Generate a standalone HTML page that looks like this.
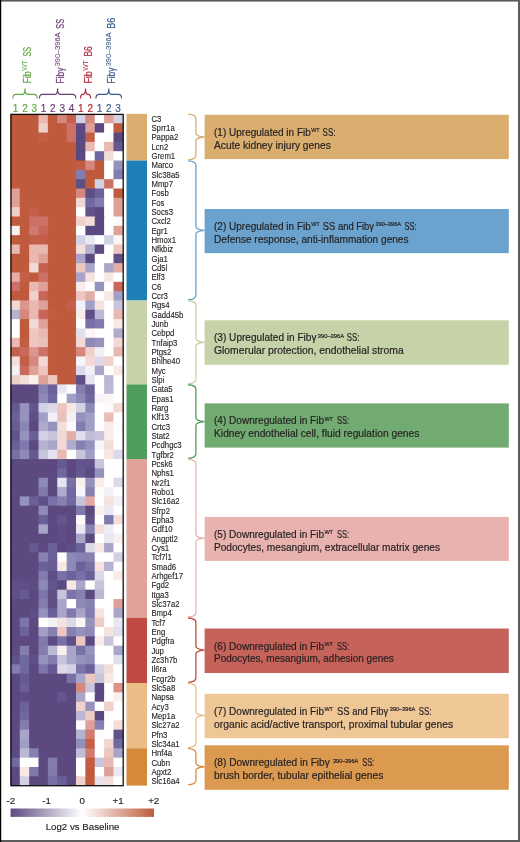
<!DOCTYPE html>
<html lang="en"><head><meta charset="utf-8"><title>Heatmap figure</title>
<style>html,body{margin:0;padding:0;background:#fff}body{width:520px;height:842px;overflow:hidden}svg{display:block}text{font-family:"Liberation Sans",sans-serif}.g{font-size:8.25px;fill:#231f20;stroke:#231f20;stroke-width:0.12px}.b{font-size:10.1px;fill:#231f20;stroke:#231f20;stroke-width:0.18px}.s{font-size:5.7px}.n{font-size:10px;text-anchor:middle;stroke-width:0.2px}.k{font-size:9.7px;fill:#231f20;text-anchor:middle;stroke:#231f20;stroke-width:0.15px}</style></head><body>
<svg width="520" height="842" viewBox="0 0 520 842">
<defs><linearGradient id="lg" x1="0" x2="1" y1="0" y2="0"><stop offset="0" stop-color="#5b4980"/><stop offset="0.5" stop-color="#ffffff"/><stop offset="1" stop-color="#bf5b3c"/></linearGradient></defs>
<rect width="520" height="842" fill="#fff"/>
<rect x="0" y="0" width="520" height="1.6" fill="#5c5c5c"/>
<rect x="518" y="0" width="2" height="842" fill="#5c5c5c"/>
<rect x="0" y="840" width="520" height="2" fill="#5c5c5c"/>
<rect x="0" y="0" width="1.2" height="842" fill="#000"/>
<g>
<rect x="10.40" y="113.87" width="29.11" height="10.33" fill="#bf5b3c"/>
<rect x="38.51" y="113.87" width="10.37" height="10.33" fill="#e8b8b1"/>
<rect x="47.88" y="113.87" width="10.37" height="10.33" fill="#bf5b3c"/>
<rect x="57.25" y="113.87" width="10.37" height="10.33" fill="#d6887f"/>
<rect x="66.62" y="113.87" width="10.37" height="10.33" fill="#c6604e"/>
<rect x="75.99" y="113.87" width="10.37" height="10.33" fill="#d3d1e4"/>
<rect x="85.36" y="113.87" width="10.37" height="10.33" fill="#d6887f"/>
<rect x="94.73" y="113.87" width="10.37" height="10.33" fill="#ffffff"/>
<rect x="104.10" y="113.87" width="10.37" height="10.33" fill="#dfa098"/>
<rect x="113.47" y="113.87" width="9.97" height="10.33" fill="#d3d1e4"/>
<rect x="10.40" y="123.20" width="29.11" height="10.33" fill="#bf5b3c"/>
<rect x="38.51" y="123.20" width="10.37" height="10.33" fill="#f0d0ca"/>
<rect x="47.88" y="123.20" width="19.74" height="10.33" fill="#bf5b3c"/>
<rect x="66.62" y="123.20" width="10.37" height="10.33" fill="#cd7066"/>
<rect x="75.99" y="123.20" width="10.37" height="10.33" fill="#5b4980"/>
<rect x="85.36" y="123.20" width="10.37" height="10.33" fill="#dfa098"/>
<rect x="94.73" y="123.20" width="10.37" height="10.33" fill="#5b4980"/>
<rect x="104.10" y="123.20" width="10.37" height="10.33" fill="#ffffff"/>
<rect x="113.47" y="123.20" width="9.97" height="10.33" fill="#bf5b3c"/>
<rect x="10.40" y="132.53" width="29.11" height="10.33" fill="#bf5b3c"/>
<rect x="38.51" y="132.53" width="10.37" height="10.33" fill="#c35e47"/>
<rect x="47.88" y="132.53" width="19.74" height="10.33" fill="#bf5b3c"/>
<rect x="66.62" y="132.53" width="10.37" height="10.33" fill="#cd7066"/>
<rect x="75.99" y="132.53" width="10.37" height="10.33" fill="#5b4980"/>
<rect x="85.36" y="132.53" width="10.37" height="10.33" fill="#c35e47"/>
<rect x="94.73" y="132.53" width="19.74" height="10.33" fill="#ffffff"/>
<rect x="113.47" y="132.53" width="9.97" height="10.33" fill="#5b4980"/>
<rect x="10.40" y="141.86" width="66.59" height="10.33" fill="#bf5b3c"/>
<rect x="75.99" y="141.86" width="10.37" height="10.33" fill="#5b4980"/>
<rect x="85.36" y="141.86" width="10.37" height="10.33" fill="#e8b8b1"/>
<rect x="94.73" y="141.86" width="10.37" height="10.33" fill="#ffffff"/>
<rect x="104.10" y="141.86" width="10.37" height="10.33" fill="#e8b8b1"/>
<rect x="113.47" y="141.86" width="9.97" height="10.33" fill="#665890"/>
<rect x="10.40" y="151.19" width="66.59" height="10.33" fill="#bf5b3c"/>
<rect x="75.99" y="151.19" width="10.37" height="10.33" fill="#5b4980"/>
<rect x="85.36" y="151.19" width="10.37" height="10.33" fill="#ffffff"/>
<rect x="94.73" y="151.19" width="10.37" height="10.33" fill="#7068a0"/>
<rect x="104.10" y="151.19" width="10.37" height="10.33" fill="#f4deda"/>
<rect x="113.47" y="151.19" width="9.97" height="10.33" fill="#ffffff"/>
<rect x="10.40" y="160.52" width="66.59" height="10.33" fill="#bf5b3c"/>
<rect x="75.99" y="160.52" width="10.37" height="10.33" fill="#c25d43"/>
<rect x="85.36" y="160.52" width="10.37" height="10.33" fill="#d6887f"/>
<rect x="94.73" y="160.52" width="10.37" height="10.33" fill="#bf5b3c"/>
<rect x="104.10" y="160.52" width="10.37" height="10.33" fill="#ffffff"/>
<rect x="113.47" y="160.52" width="9.97" height="10.33" fill="#9692be"/>
<rect x="10.40" y="169.85" width="66.59" height="10.33" fill="#bf5b3c"/>
<rect x="75.99" y="169.85" width="10.37" height="10.33" fill="#837daf"/>
<rect x="85.36" y="169.85" width="19.74" height="10.33" fill="#bf5b3c"/>
<rect x="104.10" y="169.85" width="10.37" height="10.33" fill="#ffffff"/>
<rect x="113.47" y="169.85" width="9.97" height="10.33" fill="#837daf"/>
<rect x="10.40" y="179.18" width="66.59" height="10.33" fill="#bf5b3c"/>
<rect x="75.99" y="179.18" width="10.37" height="10.33" fill="#5f4f86"/>
<rect x="85.36" y="179.18" width="10.37" height="10.33" fill="#bf5b3c"/>
<rect x="94.73" y="179.18" width="10.37" height="10.33" fill="#d3d1e4"/>
<rect x="104.10" y="179.18" width="10.37" height="10.33" fill="#cd7066"/>
<rect x="113.47" y="179.18" width="9.97" height="10.33" fill="#ffffff"/>
<rect x="10.40" y="188.51" width="10.37" height="10.33" fill="#dfa098"/>
<rect x="19.77" y="188.51" width="57.22" height="10.33" fill="#bf5b3c"/>
<rect x="75.99" y="188.51" width="10.37" height="10.33" fill="#d6887f"/>
<rect x="85.36" y="188.51" width="10.37" height="10.33" fill="#5f4f86"/>
<rect x="94.73" y="188.51" width="10.37" height="10.33" fill="#6c629a"/>
<rect x="104.10" y="188.51" width="10.37" height="10.33" fill="#ffffff"/>
<rect x="113.47" y="188.51" width="9.97" height="10.33" fill="#bf5b3c"/>
<rect x="10.40" y="197.84" width="10.37" height="10.33" fill="#dfa098"/>
<rect x="19.77" y="197.84" width="57.22" height="10.33" fill="#bf5b3c"/>
<rect x="75.99" y="197.84" width="10.37" height="10.33" fill="#f3d9d5"/>
<rect x="85.36" y="197.84" width="10.37" height="10.33" fill="#7068a0"/>
<rect x="94.73" y="197.84" width="10.37" height="10.33" fill="#837daf"/>
<rect x="104.10" y="197.84" width="10.37" height="10.33" fill="#ffffff"/>
<rect x="113.47" y="197.84" width="9.97" height="10.33" fill="#dfa098"/>
<rect x="10.40" y="207.17" width="10.37" height="10.33" fill="#f0d0ca"/>
<rect x="19.77" y="207.17" width="10.37" height="10.33" fill="#bf5b3c"/>
<rect x="29.14" y="207.17" width="10.37" height="10.33" fill="#c6604e"/>
<rect x="38.51" y="207.17" width="38.48" height="10.33" fill="#bf5b3c"/>
<rect x="75.99" y="207.17" width="10.37" height="10.33" fill="#ffffff"/>
<rect x="85.36" y="207.17" width="10.37" height="10.33" fill="#61528a"/>
<rect x="94.73" y="207.17" width="10.37" height="10.33" fill="#5b4980"/>
<rect x="104.10" y="207.17" width="10.37" height="10.33" fill="#ffffff"/>
<rect x="113.47" y="207.17" width="9.97" height="10.33" fill="#dfa098"/>
<rect x="10.40" y="216.50" width="19.74" height="10.33" fill="#bf5b3c"/>
<rect x="29.14" y="216.50" width="19.74" height="10.33" fill="#cd7066"/>
<rect x="47.88" y="216.50" width="29.11" height="10.33" fill="#bf5b3c"/>
<rect x="75.99" y="216.50" width="10.37" height="10.33" fill="#f0d0ca"/>
<rect x="85.36" y="216.50" width="10.37" height="10.33" fill="#f4deda"/>
<rect x="94.73" y="216.50" width="10.37" height="10.33" fill="#5b4980"/>
<rect x="104.10" y="216.50" width="10.37" height="10.33" fill="#ffffff"/>
<rect x="113.47" y="216.50" width="9.97" height="10.33" fill="#fefafa"/>
<rect x="10.40" y="225.83" width="10.37" height="10.33" fill="#faf1ef"/>
<rect x="19.77" y="225.83" width="10.37" height="10.33" fill="#bf5b3c"/>
<rect x="29.14" y="225.83" width="10.37" height="10.33" fill="#d17a70"/>
<rect x="38.51" y="225.83" width="10.37" height="10.33" fill="#c96658"/>
<rect x="47.88" y="225.83" width="29.11" height="10.33" fill="#bf5b3c"/>
<rect x="75.99" y="225.83" width="10.37" height="10.33" fill="#ffffff"/>
<rect x="85.36" y="225.83" width="19.74" height="10.33" fill="#5b4980"/>
<rect x="104.10" y="225.83" width="10.37" height="10.33" fill="#ffffff"/>
<rect x="113.47" y="225.83" width="9.97" height="10.33" fill="#dfa098"/>
<rect x="10.40" y="235.16" width="19.74" height="10.33" fill="#bf5b3c"/>
<rect x="29.14" y="235.16" width="19.74" height="10.33" fill="#c35e47"/>
<rect x="47.88" y="235.16" width="29.11" height="10.33" fill="#bf5b3c"/>
<rect x="75.99" y="235.16" width="10.37" height="10.33" fill="#d3d1e4"/>
<rect x="85.36" y="235.16" width="10.37" height="10.33" fill="#e9e8f2"/>
<rect x="94.73" y="235.16" width="10.37" height="10.33" fill="#ffffff"/>
<rect x="104.10" y="235.16" width="10.37" height="10.33" fill="#d3d1e4"/>
<rect x="113.47" y="235.16" width="9.97" height="10.33" fill="#fcf6f4"/>
<rect x="10.40" y="244.49" width="10.37" height="10.33" fill="#e8b8b1"/>
<rect x="19.77" y="244.49" width="10.37" height="10.33" fill="#bf5b3c"/>
<rect x="29.14" y="244.49" width="19.74" height="10.33" fill="#e8b8b1"/>
<rect x="47.88" y="244.49" width="29.11" height="10.33" fill="#bf5b3c"/>
<rect x="75.99" y="244.49" width="10.37" height="10.33" fill="#f4deda"/>
<rect x="85.36" y="244.49" width="10.37" height="10.33" fill="#b4b2d1"/>
<rect x="94.73" y="244.49" width="10.37" height="10.33" fill="#5b4980"/>
<rect x="104.10" y="244.49" width="10.37" height="10.33" fill="#ffffff"/>
<rect x="113.47" y="244.49" width="9.97" height="10.33" fill="#edc6c0"/>
<rect x="10.40" y="253.82" width="19.74" height="10.33" fill="#bf5b3c"/>
<rect x="29.14" y="253.82" width="10.37" height="10.33" fill="#e8b8b1"/>
<rect x="38.51" y="253.82" width="10.37" height="10.33" fill="#dfa098"/>
<rect x="47.88" y="253.82" width="29.11" height="10.33" fill="#bf5b3c"/>
<rect x="75.99" y="253.82" width="10.37" height="10.33" fill="#a8a5c9"/>
<rect x="85.36" y="253.82" width="10.37" height="10.33" fill="#5b4980"/>
<rect x="94.73" y="253.82" width="19.74" height="10.33" fill="#ffffff"/>
<rect x="113.47" y="253.82" width="9.97" height="10.33" fill="#5f4f86"/>
<rect x="10.40" y="263.15" width="19.74" height="10.33" fill="#bf5b3c"/>
<rect x="29.14" y="263.15" width="10.37" height="10.33" fill="#f3d9d5"/>
<rect x="38.51" y="263.15" width="10.37" height="10.33" fill="#c6604e"/>
<rect x="47.88" y="263.15" width="29.11" height="10.33" fill="#bf5b3c"/>
<rect x="75.99" y="263.15" width="10.37" height="10.33" fill="#edc6c0"/>
<rect x="85.36" y="263.15" width="10.37" height="10.33" fill="#a8a5c9"/>
<rect x="94.73" y="263.15" width="10.37" height="10.33" fill="#ffffff"/>
<rect x="104.10" y="263.15" width="10.37" height="10.33" fill="#a8a5c9"/>
<rect x="113.47" y="263.15" width="9.97" height="10.33" fill="#e4aea7"/>
<rect x="10.40" y="272.48" width="10.37" height="10.33" fill="#e4aea7"/>
<rect x="19.77" y="272.48" width="10.37" height="10.33" fill="#c35e47"/>
<rect x="29.14" y="272.48" width="10.37" height="10.33" fill="#bf5b3c"/>
<rect x="38.51" y="272.48" width="10.37" height="10.33" fill="#cd7066"/>
<rect x="47.88" y="272.48" width="29.11" height="10.33" fill="#bf5b3c"/>
<rect x="75.99" y="272.48" width="10.37" height="10.33" fill="#a8a5c9"/>
<rect x="85.36" y="272.48" width="10.37" height="10.33" fill="#f6e3df"/>
<rect x="94.73" y="272.48" width="10.37" height="10.33" fill="#ffffff"/>
<rect x="104.10" y="272.48" width="10.37" height="10.33" fill="#f8e8e4"/>
<rect x="113.47" y="272.48" width="9.97" height="10.33" fill="#ffffff"/>
<rect x="10.40" y="281.81" width="10.37" height="10.33" fill="#cd7066"/>
<rect x="19.77" y="281.81" width="10.37" height="10.33" fill="#bf5b3c"/>
<rect x="29.14" y="281.81" width="10.37" height="10.33" fill="#e8b8b1"/>
<rect x="38.51" y="281.81" width="10.37" height="10.33" fill="#dfa098"/>
<rect x="47.88" y="281.81" width="29.11" height="10.33" fill="#bf5b3c"/>
<rect x="75.99" y="281.81" width="10.37" height="10.33" fill="#f9ecea"/>
<rect x="85.36" y="281.81" width="10.37" height="10.33" fill="#ffffff"/>
<rect x="94.73" y="281.81" width="10.37" height="10.33" fill="#9692be"/>
<rect x="104.10" y="281.81" width="10.37" height="10.33" fill="#ffffff"/>
<rect x="113.47" y="281.81" width="9.97" height="10.33" fill="#c96658"/>
<rect x="10.40" y="291.14" width="19.74" height="10.33" fill="#bf5b3c"/>
<rect x="29.14" y="291.14" width="10.37" height="10.33" fill="#f0d0ca"/>
<rect x="38.51" y="291.14" width="10.37" height="10.33" fill="#c96658"/>
<rect x="47.88" y="291.14" width="29.11" height="10.33" fill="#bf5b3c"/>
<rect x="75.99" y="291.14" width="10.37" height="10.33" fill="#edc6c0"/>
<rect x="85.36" y="291.14" width="10.37" height="10.33" fill="#e4aea7"/>
<rect x="94.73" y="291.14" width="10.37" height="10.33" fill="#ffffff"/>
<rect x="104.10" y="291.14" width="10.37" height="10.33" fill="#f8e8e4"/>
<rect x="113.47" y="291.14" width="9.97" height="10.33" fill="#a29fc6"/>
<rect x="10.40" y="300.47" width="10.37" height="10.33" fill="#f3d9d5"/>
<rect x="19.77" y="300.47" width="10.37" height="10.33" fill="#db968e"/>
<rect x="29.14" y="300.47" width="10.37" height="10.33" fill="#e8b8b1"/>
<rect x="38.51" y="300.47" width="10.37" height="10.33" fill="#dfa098"/>
<rect x="47.88" y="300.47" width="19.74" height="10.33" fill="#bf5b3c"/>
<rect x="66.62" y="300.47" width="10.37" height="10.33" fill="#c55f4a"/>
<rect x="75.99" y="300.47" width="10.37" height="10.33" fill="#f2f1f7"/>
<rect x="85.36" y="300.47" width="10.37" height="10.33" fill="#a29fc6"/>
<rect x="94.73" y="300.47" width="10.37" height="10.33" fill="#f6e3df"/>
<rect x="104.10" y="300.47" width="10.37" height="10.33" fill="#ffffff"/>
<rect x="113.47" y="300.47" width="9.97" height="10.33" fill="#c7c4dc"/>
<rect x="10.40" y="309.80" width="10.37" height="10.33" fill="#b4b2d1"/>
<rect x="19.77" y="309.80" width="10.37" height="10.33" fill="#d6887f"/>
<rect x="29.14" y="309.80" width="10.37" height="10.33" fill="#e8b8b1"/>
<rect x="38.51" y="309.80" width="10.37" height="10.33" fill="#c96658"/>
<rect x="47.88" y="309.80" width="10.37" height="10.33" fill="#c25d43"/>
<rect x="57.25" y="309.80" width="19.74" height="10.33" fill="#bf5b3c"/>
<rect x="75.99" y="309.80" width="10.37" height="10.33" fill="#f9ecea"/>
<rect x="85.36" y="309.80" width="10.37" height="10.33" fill="#5f4f86"/>
<rect x="94.73" y="309.80" width="10.37" height="10.33" fill="#bbb8d5"/>
<rect x="104.10" y="309.80" width="10.37" height="10.33" fill="#ffffff"/>
<rect x="113.47" y="309.80" width="9.97" height="10.33" fill="#e8b8b1"/>
<rect x="10.40" y="319.13" width="10.37" height="10.33" fill="#ffffff"/>
<rect x="19.77" y="319.13" width="10.37" height="10.33" fill="#bf5b3c"/>
<rect x="29.14" y="319.13" width="10.37" height="10.33" fill="#f3d9d5"/>
<rect x="38.51" y="319.13" width="10.37" height="10.33" fill="#dfa098"/>
<rect x="47.88" y="319.13" width="29.11" height="10.33" fill="#bf5b3c"/>
<rect x="75.99" y="319.13" width="10.37" height="10.33" fill="#ffffff"/>
<rect x="85.36" y="319.13" width="10.37" height="10.33" fill="#7870a6"/>
<rect x="94.73" y="319.13" width="10.37" height="10.33" fill="#7f79ac"/>
<rect x="104.10" y="319.13" width="10.37" height="10.33" fill="#ffffff"/>
<rect x="113.47" y="319.13" width="9.97" height="10.33" fill="#f8e8e4"/>
<rect x="10.40" y="328.46" width="10.37" height="10.33" fill="#ffffff"/>
<rect x="19.77" y="328.46" width="10.37" height="10.33" fill="#bf5b3c"/>
<rect x="29.14" y="328.46" width="10.37" height="10.33" fill="#edc6c0"/>
<rect x="38.51" y="328.46" width="10.37" height="10.33" fill="#e8b8b1"/>
<rect x="47.88" y="328.46" width="29.11" height="10.33" fill="#bf5b3c"/>
<rect x="75.99" y="328.46" width="10.37" height="10.33" fill="#e0dfec"/>
<rect x="85.36" y="328.46" width="10.37" height="10.33" fill="#fcf6f4"/>
<rect x="94.73" y="328.46" width="19.74" height="10.33" fill="#ffffff"/>
<rect x="113.47" y="328.46" width="9.97" height="10.33" fill="#aeabcd"/>
<rect x="10.40" y="337.79" width="10.37" height="10.33" fill="#e8b8b1"/>
<rect x="19.77" y="337.79" width="10.37" height="10.33" fill="#c25d43"/>
<rect x="29.14" y="337.79" width="10.37" height="10.33" fill="#edc6c0"/>
<rect x="38.51" y="337.79" width="10.37" height="10.33" fill="#ebc2bb"/>
<rect x="47.88" y="337.79" width="29.11" height="10.33" fill="#bf5b3c"/>
<rect x="75.99" y="337.79" width="10.37" height="10.33" fill="#f3d9d5"/>
<rect x="85.36" y="337.79" width="10.37" height="10.33" fill="#8e8ab8"/>
<rect x="94.73" y="337.79" width="10.37" height="10.33" fill="#9692be"/>
<rect x="104.10" y="337.79" width="10.37" height="10.33" fill="#ffffff"/>
<rect x="113.47" y="337.79" width="9.97" height="10.33" fill="#f3d9d5"/>
<rect x="10.40" y="347.12" width="10.37" height="10.33" fill="#c6604e"/>
<rect x="19.77" y="347.12" width="10.37" height="10.33" fill="#ca6a5c"/>
<rect x="29.14" y="347.12" width="10.37" height="10.33" fill="#db968e"/>
<rect x="38.51" y="347.12" width="10.37" height="10.33" fill="#cd7066"/>
<rect x="47.88" y="347.12" width="29.11" height="10.33" fill="#bf5b3c"/>
<rect x="75.99" y="347.12" width="10.37" height="10.33" fill="#d6887f"/>
<rect x="85.36" y="347.12" width="10.37" height="10.33" fill="#f0d0ca"/>
<rect x="94.73" y="347.12" width="10.37" height="10.33" fill="#f2f1f7"/>
<rect x="104.10" y="347.12" width="10.37" height="10.33" fill="#ffffff"/>
<rect x="113.47" y="347.12" width="9.97" height="10.33" fill="#e8b8b1"/>
<rect x="10.40" y="356.45" width="10.37" height="10.33" fill="#f4deda"/>
<rect x="19.77" y="356.45" width="10.37" height="10.33" fill="#c35e47"/>
<rect x="29.14" y="356.45" width="10.37" height="10.33" fill="#d6887f"/>
<rect x="38.51" y="356.45" width="10.37" height="10.33" fill="#f3d9d5"/>
<rect x="47.88" y="356.45" width="29.11" height="10.33" fill="#bf5b3c"/>
<rect x="75.99" y="356.45" width="10.37" height="10.33" fill="#f6f6fa"/>
<rect x="85.36" y="356.45" width="10.37" height="10.33" fill="#f3d9d5"/>
<rect x="94.73" y="356.45" width="10.37" height="10.33" fill="#dcdae9"/>
<rect x="104.10" y="356.45" width="10.37" height="10.33" fill="#f0d0ca"/>
<rect x="113.47" y="356.45" width="9.97" height="10.33" fill="#ffffff"/>
<rect x="10.40" y="365.78" width="10.37" height="10.33" fill="#f2f1f7"/>
<rect x="19.77" y="365.78" width="10.37" height="10.33" fill="#ca6a5c"/>
<rect x="29.14" y="365.78" width="10.37" height="10.33" fill="#dfa098"/>
<rect x="38.51" y="365.78" width="10.37" height="10.33" fill="#edc6c0"/>
<rect x="47.88" y="365.78" width="29.11" height="10.33" fill="#bf5b3c"/>
<rect x="75.99" y="365.78" width="10.37" height="10.33" fill="#dcdae9"/>
<rect x="85.36" y="365.78" width="10.37" height="10.33" fill="#f2f1f7"/>
<rect x="94.73" y="365.78" width="10.37" height="10.33" fill="#a8a5c9"/>
<rect x="104.10" y="365.78" width="10.37" height="10.33" fill="#ffffff"/>
<rect x="113.47" y="365.78" width="9.97" height="10.33" fill="#f8e8e4"/>
<rect x="10.40" y="375.11" width="10.37" height="10.33" fill="#f0d0ca"/>
<rect x="19.77" y="375.11" width="10.37" height="10.33" fill="#f4deda"/>
<rect x="29.14" y="375.11" width="10.37" height="10.33" fill="#faf1ef"/>
<rect x="38.51" y="375.11" width="10.37" height="10.33" fill="#dfa098"/>
<rect x="47.88" y="375.11" width="10.37" height="10.33" fill="#edc6c0"/>
<rect x="57.25" y="375.11" width="19.74" height="10.33" fill="#bf5b3c"/>
<rect x="75.99" y="375.11" width="10.37" height="10.33" fill="#5f4f86"/>
<rect x="85.36" y="375.11" width="10.37" height="10.33" fill="#e5e3ef"/>
<rect x="94.73" y="375.11" width="10.37" height="10.33" fill="#ffffff"/>
<rect x="104.10" y="375.11" width="10.37" height="10.33" fill="#bbb8d5"/>
<rect x="113.47" y="375.11" width="9.97" height="10.33" fill="#ffffff"/>
<rect x="10.40" y="384.44" width="29.11" height="10.33" fill="#5b4980"/>
<rect x="38.51" y="384.44" width="10.37" height="10.33" fill="#8781b2"/>
<rect x="47.88" y="384.44" width="10.37" height="10.33" fill="#6c629a"/>
<rect x="57.25" y="384.44" width="10.37" height="10.33" fill="#e9e8f2"/>
<rect x="66.62" y="384.44" width="10.37" height="10.33" fill="#fbfafc"/>
<rect x="75.99" y="384.44" width="10.37" height="10.33" fill="#837daf"/>
<rect x="85.36" y="384.44" width="10.37" height="10.33" fill="#6c629a"/>
<rect x="94.73" y="384.44" width="10.37" height="10.33" fill="#ffffff"/>
<rect x="104.10" y="384.44" width="10.37" height="10.33" fill="#bbb8d5"/>
<rect x="113.47" y="384.44" width="9.97" height="10.33" fill="#ffffff"/>
<rect x="10.40" y="393.77" width="29.11" height="10.33" fill="#5b4980"/>
<rect x="38.51" y="393.77" width="10.37" height="10.33" fill="#8e8ab8"/>
<rect x="47.88" y="393.77" width="10.37" height="10.33" fill="#7068a0"/>
<rect x="57.25" y="393.77" width="10.37" height="10.33" fill="#ffffff"/>
<rect x="66.62" y="393.77" width="10.37" height="10.33" fill="#a29fc6"/>
<rect x="75.99" y="393.77" width="10.37" height="10.33" fill="#8e8ab8"/>
<rect x="85.36" y="393.77" width="10.37" height="10.33" fill="#7068a0"/>
<rect x="94.73" y="393.77" width="10.37" height="10.33" fill="#f6f6fa"/>
<rect x="104.10" y="393.77" width="10.37" height="10.33" fill="#fcf6f4"/>
<rect x="113.47" y="393.77" width="9.97" height="10.33" fill="#ffffff"/>
<rect x="10.40" y="403.10" width="10.37" height="10.33" fill="#665890"/>
<rect x="19.77" y="403.10" width="10.37" height="10.33" fill="#9692be"/>
<rect x="29.14" y="403.10" width="10.37" height="10.33" fill="#63558d"/>
<rect x="38.51" y="403.10" width="10.37" height="10.33" fill="#d3d1e4"/>
<rect x="47.88" y="403.10" width="10.37" height="10.33" fill="#dcdae9"/>
<rect x="57.25" y="403.10" width="10.37" height="10.33" fill="#edc6c0"/>
<rect x="66.62" y="403.10" width="10.37" height="10.33" fill="#f8e8e4"/>
<rect x="75.99" y="403.10" width="10.37" height="10.33" fill="#d3d1e4"/>
<rect x="85.36" y="403.10" width="10.37" height="10.33" fill="#8e8ab8"/>
<rect x="94.73" y="403.10" width="10.37" height="10.33" fill="#ffffff"/>
<rect x="104.10" y="403.10" width="10.37" height="10.33" fill="#fefafa"/>
<rect x="113.47" y="403.10" width="9.97" height="10.33" fill="#f3d9d5"/>
<rect x="10.40" y="412.43" width="10.37" height="10.33" fill="#6c629a"/>
<rect x="19.77" y="412.43" width="10.37" height="10.33" fill="#9692be"/>
<rect x="29.14" y="412.43" width="10.37" height="10.33" fill="#5f4f86"/>
<rect x="38.51" y="412.43" width="10.37" height="10.33" fill="#a29fc6"/>
<rect x="47.88" y="412.43" width="10.37" height="10.33" fill="#f2f1f7"/>
<rect x="57.25" y="412.43" width="10.37" height="10.33" fill="#ebc2bb"/>
<rect x="66.62" y="412.43" width="10.37" height="10.33" fill="#f2f1f7"/>
<rect x="75.99" y="412.43" width="10.37" height="10.33" fill="#9692be"/>
<rect x="85.36" y="412.43" width="10.37" height="10.33" fill="#a29fc6"/>
<rect x="94.73" y="412.43" width="10.37" height="10.33" fill="#ffffff"/>
<rect x="104.10" y="412.43" width="10.37" height="10.33" fill="#e9bdb6"/>
<rect x="113.47" y="412.43" width="9.97" height="10.33" fill="#ffffff"/>
<rect x="10.40" y="421.76" width="10.37" height="10.33" fill="#685c93"/>
<rect x="19.77" y="421.76" width="10.37" height="10.33" fill="#8b85b5"/>
<rect x="29.14" y="421.76" width="10.37" height="10.33" fill="#5b4980"/>
<rect x="38.51" y="421.76" width="10.37" height="10.33" fill="#aeabcd"/>
<rect x="47.88" y="421.76" width="10.37" height="10.33" fill="#9692be"/>
<rect x="57.25" y="421.76" width="10.37" height="10.33" fill="#f4deda"/>
<rect x="66.62" y="421.76" width="10.37" height="10.33" fill="#fbfafc"/>
<rect x="75.99" y="421.76" width="10.37" height="10.33" fill="#837daf"/>
<rect x="85.36" y="421.76" width="10.37" height="10.33" fill="#a29fc6"/>
<rect x="94.73" y="421.76" width="10.37" height="10.33" fill="#ffffff"/>
<rect x="104.10" y="421.76" width="10.37" height="10.33" fill="#f9ecea"/>
<rect x="113.47" y="421.76" width="9.97" height="10.33" fill="#fbfafc"/>
<rect x="10.40" y="431.09" width="10.37" height="10.33" fill="#61528a"/>
<rect x="19.77" y="431.09" width="10.37" height="10.33" fill="#9692be"/>
<rect x="29.14" y="431.09" width="10.37" height="10.33" fill="#6a5f96"/>
<rect x="38.51" y="431.09" width="10.37" height="10.33" fill="#d3d1e4"/>
<rect x="47.88" y="431.09" width="10.37" height="10.33" fill="#c7c4dc"/>
<rect x="57.25" y="431.09" width="10.37" height="10.33" fill="#f3d9d5"/>
<rect x="66.62" y="431.09" width="10.37" height="10.33" fill="#e4aea7"/>
<rect x="75.99" y="431.09" width="10.37" height="10.33" fill="#e0dfec"/>
<rect x="85.36" y="431.09" width="10.37" height="10.33" fill="#c1bed9"/>
<rect x="94.73" y="431.09" width="10.37" height="10.33" fill="#c7c4dc"/>
<rect x="104.10" y="431.09" width="10.37" height="10.33" fill="#f9ecea"/>
<rect x="113.47" y="431.09" width="9.97" height="10.33" fill="#ffffff"/>
<rect x="10.40" y="440.42" width="10.37" height="10.33" fill="#6a5f96"/>
<rect x="19.77" y="440.42" width="10.37" height="10.33" fill="#7f79ac"/>
<rect x="29.14" y="440.42" width="10.37" height="10.33" fill="#5b4980"/>
<rect x="38.51" y="440.42" width="10.37" height="10.33" fill="#b4b2d1"/>
<rect x="47.88" y="440.42" width="10.37" height="10.33" fill="#a8a5c9"/>
<rect x="57.25" y="440.42" width="10.37" height="10.33" fill="#f3d9d5"/>
<rect x="66.62" y="440.42" width="10.37" height="10.33" fill="#aeabcd"/>
<rect x="75.99" y="440.42" width="10.37" height="10.33" fill="#8781b2"/>
<rect x="85.36" y="440.42" width="10.37" height="10.33" fill="#9692be"/>
<rect x="94.73" y="440.42" width="10.37" height="10.33" fill="#f6f6fa"/>
<rect x="104.10" y="440.42" width="10.37" height="10.33" fill="#f4deda"/>
<rect x="113.47" y="440.42" width="9.97" height="10.33" fill="#ffffff"/>
<rect x="10.40" y="449.75" width="10.37" height="10.33" fill="#7870a6"/>
<rect x="19.77" y="449.75" width="10.37" height="10.33" fill="#8e8ab8"/>
<rect x="29.14" y="449.75" width="10.37" height="10.33" fill="#665890"/>
<rect x="38.51" y="449.75" width="10.37" height="10.33" fill="#c7c4dc"/>
<rect x="47.88" y="449.75" width="10.37" height="10.33" fill="#e5e3ef"/>
<rect x="57.25" y="449.75" width="10.37" height="10.33" fill="#e8b8b1"/>
<rect x="66.62" y="449.75" width="10.37" height="10.33" fill="#ffffff"/>
<rect x="75.99" y="449.75" width="10.37" height="10.33" fill="#c7c4dc"/>
<rect x="85.36" y="449.75" width="10.37" height="10.33" fill="#a29fc6"/>
<rect x="94.73" y="449.75" width="10.37" height="10.33" fill="#ffffff"/>
<rect x="104.10" y="449.75" width="10.37" height="10.33" fill="#f8e8e4"/>
<rect x="113.47" y="449.75" width="9.97" height="10.33" fill="#dcdae9"/>
<rect x="10.40" y="459.08" width="47.85" height="10.33" fill="#5b4980"/>
<rect x="57.25" y="459.08" width="10.37" height="10.33" fill="#665890"/>
<rect x="66.62" y="459.08" width="10.37" height="10.33" fill="#5b4980"/>
<rect x="75.99" y="459.08" width="10.37" height="10.33" fill="#63558d"/>
<rect x="85.36" y="459.08" width="10.37" height="10.33" fill="#61528a"/>
<rect x="94.73" y="459.08" width="10.37" height="10.33" fill="#c7c4dc"/>
<rect x="104.10" y="459.08" width="19.34" height="10.33" fill="#ffffff"/>
<rect x="10.40" y="468.41" width="47.85" height="10.33" fill="#5b4980"/>
<rect x="57.25" y="468.41" width="10.37" height="10.33" fill="#7068a0"/>
<rect x="66.62" y="468.41" width="10.37" height="10.33" fill="#5b4980"/>
<rect x="75.99" y="468.41" width="10.37" height="10.33" fill="#665890"/>
<rect x="85.36" y="468.41" width="10.37" height="10.33" fill="#5b4980"/>
<rect x="94.73" y="468.41" width="10.37" height="10.33" fill="#9692be"/>
<rect x="104.10" y="468.41" width="19.34" height="10.33" fill="#ffffff"/>
<rect x="10.40" y="477.74" width="29.11" height="10.33" fill="#5b4980"/>
<rect x="38.51" y="477.74" width="10.37" height="10.33" fill="#8e8ab8"/>
<rect x="47.88" y="477.74" width="10.37" height="10.33" fill="#5b4980"/>
<rect x="57.25" y="477.74" width="10.37" height="10.33" fill="#e5e3ef"/>
<rect x="66.62" y="477.74" width="10.37" height="10.33" fill="#7870a6"/>
<rect x="75.99" y="477.74" width="10.37" height="10.33" fill="#faf1ef"/>
<rect x="85.36" y="477.74" width="10.37" height="10.33" fill="#9692be"/>
<rect x="94.73" y="477.74" width="10.37" height="10.33" fill="#f9ecea"/>
<rect x="104.10" y="477.74" width="10.37" height="10.33" fill="#ffffff"/>
<rect x="113.47" y="477.74" width="9.97" height="10.33" fill="#dcdae9"/>
<rect x="10.40" y="487.07" width="29.11" height="10.33" fill="#5b4980"/>
<rect x="38.51" y="487.07" width="10.37" height="10.33" fill="#7f79ac"/>
<rect x="47.88" y="487.07" width="10.37" height="10.33" fill="#5b4980"/>
<rect x="57.25" y="487.07" width="10.37" height="10.33" fill="#aeabcd"/>
<rect x="66.62" y="487.07" width="10.37" height="10.33" fill="#7068a0"/>
<rect x="75.99" y="487.07" width="10.37" height="10.33" fill="#f6f6fa"/>
<rect x="85.36" y="487.07" width="10.37" height="10.33" fill="#8781b2"/>
<rect x="94.73" y="487.07" width="10.37" height="10.33" fill="#fefafa"/>
<rect x="104.10" y="487.07" width="10.37" height="10.33" fill="#f2f1f7"/>
<rect x="113.47" y="487.07" width="9.97" height="10.33" fill="#ffffff"/>
<rect x="10.40" y="496.40" width="10.37" height="10.33" fill="#5b4980"/>
<rect x="19.77" y="496.40" width="10.37" height="10.33" fill="#9692be"/>
<rect x="29.14" y="496.40" width="10.37" height="10.33" fill="#6a5f96"/>
<rect x="38.51" y="496.40" width="10.37" height="10.33" fill="#5f4f86"/>
<rect x="47.88" y="496.40" width="10.37" height="10.33" fill="#7870a6"/>
<rect x="57.25" y="496.40" width="10.37" height="10.33" fill="#8781b2"/>
<rect x="66.62" y="496.40" width="10.37" height="10.33" fill="#7068a0"/>
<rect x="75.99" y="496.40" width="10.37" height="10.33" fill="#c7c4dc"/>
<rect x="85.36" y="496.40" width="10.37" height="10.33" fill="#e2aaa2"/>
<rect x="94.73" y="496.40" width="10.37" height="10.33" fill="#ffffff"/>
<rect x="104.10" y="496.40" width="10.37" height="10.33" fill="#f6e3df"/>
<rect x="113.47" y="496.40" width="9.97" height="10.33" fill="#f2f1f7"/>
<rect x="10.40" y="505.73" width="29.11" height="10.33" fill="#5b4980"/>
<rect x="38.51" y="505.73" width="10.37" height="10.33" fill="#8e8ab8"/>
<rect x="47.88" y="505.73" width="29.11" height="10.33" fill="#5b4980"/>
<rect x="75.99" y="505.73" width="10.37" height="10.33" fill="#7f79ac"/>
<rect x="85.36" y="505.73" width="10.37" height="10.33" fill="#5b4980"/>
<rect x="94.73" y="505.73" width="10.37" height="10.33" fill="#faf1ef"/>
<rect x="104.10" y="505.73" width="10.37" height="10.33" fill="#e9e8f2"/>
<rect x="113.47" y="505.73" width="9.97" height="10.33" fill="#ffffff"/>
<rect x="10.40" y="515.06" width="29.11" height="10.33" fill="#5b4980"/>
<rect x="38.51" y="515.06" width="10.37" height="10.33" fill="#6a5f96"/>
<rect x="47.88" y="515.06" width="10.37" height="10.33" fill="#5b4980"/>
<rect x="57.25" y="515.06" width="10.37" height="10.33" fill="#63558d"/>
<rect x="66.62" y="515.06" width="10.37" height="10.33" fill="#5b4980"/>
<rect x="75.99" y="515.06" width="10.37" height="10.33" fill="#fefafa"/>
<rect x="85.36" y="515.06" width="10.37" height="10.33" fill="#5f4f86"/>
<rect x="94.73" y="515.06" width="10.37" height="10.33" fill="#ffffff"/>
<rect x="104.10" y="515.06" width="10.37" height="10.33" fill="#7f79ac"/>
<rect x="113.47" y="515.06" width="9.97" height="10.33" fill="#f4deda"/>
<rect x="10.40" y="524.39" width="29.11" height="10.33" fill="#5b4980"/>
<rect x="38.51" y="524.39" width="10.37" height="10.33" fill="#a8a5c9"/>
<rect x="47.88" y="524.39" width="10.37" height="10.33" fill="#5b4980"/>
<rect x="57.25" y="524.39" width="10.37" height="10.33" fill="#5f4f86"/>
<rect x="66.62" y="524.39" width="10.37" height="10.33" fill="#5b4980"/>
<rect x="75.99" y="524.39" width="10.37" height="10.33" fill="#e9e8f2"/>
<rect x="85.36" y="524.39" width="10.37" height="10.33" fill="#8781b2"/>
<rect x="94.73" y="524.39" width="10.37" height="10.33" fill="#f4deda"/>
<rect x="104.10" y="524.39" width="10.37" height="10.33" fill="#ededf4"/>
<rect x="113.47" y="524.39" width="9.97" height="10.33" fill="#ffffff"/>
<rect x="10.40" y="533.72" width="47.85" height="10.33" fill="#5b4980"/>
<rect x="57.25" y="533.72" width="10.37" height="10.33" fill="#5f4f86"/>
<rect x="66.62" y="533.72" width="10.37" height="10.33" fill="#5b4980"/>
<rect x="75.99" y="533.72" width="10.37" height="10.33" fill="#a8a5c9"/>
<rect x="85.36" y="533.72" width="10.37" height="10.33" fill="#5b4980"/>
<rect x="94.73" y="533.72" width="10.37" height="10.33" fill="#ffffff"/>
<rect x="104.10" y="533.72" width="10.37" height="10.33" fill="#e9e8f2"/>
<rect x="113.47" y="533.72" width="9.97" height="10.33" fill="#faf1ef"/>
<rect x="10.40" y="543.05" width="19.74" height="10.33" fill="#5b4980"/>
<rect x="29.14" y="543.05" width="10.37" height="10.33" fill="#665890"/>
<rect x="38.51" y="543.05" width="10.37" height="10.33" fill="#5b4980"/>
<rect x="47.88" y="543.05" width="10.37" height="10.33" fill="#6c629a"/>
<rect x="57.25" y="543.05" width="10.37" height="10.33" fill="#5b4980"/>
<rect x="66.62" y="543.05" width="10.37" height="10.33" fill="#5f4f86"/>
<rect x="75.99" y="543.05" width="10.37" height="10.33" fill="#6c629a"/>
<rect x="85.36" y="543.05" width="10.37" height="10.33" fill="#dcdae9"/>
<rect x="94.73" y="543.05" width="10.37" height="10.33" fill="#f8e8e4"/>
<rect x="104.10" y="543.05" width="10.37" height="10.33" fill="#a8a5c9"/>
<rect x="113.47" y="543.05" width="9.97" height="10.33" fill="#ffffff"/>
<rect x="10.40" y="552.38" width="29.11" height="10.33" fill="#5b4980"/>
<rect x="38.51" y="552.38" width="10.37" height="10.33" fill="#8781b2"/>
<rect x="47.88" y="552.38" width="10.37" height="10.33" fill="#6a5f96"/>
<rect x="57.25" y="552.38" width="10.37" height="10.33" fill="#ffffff"/>
<rect x="66.62" y="552.38" width="10.37" height="10.33" fill="#8e8ab8"/>
<rect x="75.99" y="552.38" width="19.74" height="10.33" fill="#8781b2"/>
<rect x="94.73" y="552.38" width="19.74" height="10.33" fill="#ffffff"/>
<rect x="113.47" y="552.38" width="9.97" height="10.33" fill="#d3d1e4"/>
<rect x="10.40" y="561.71" width="29.11" height="10.33" fill="#5b4980"/>
<rect x="38.51" y="561.71" width="10.37" height="10.33" fill="#6a5f96"/>
<rect x="47.88" y="561.71" width="10.37" height="10.33" fill="#685c93"/>
<rect x="57.25" y="561.71" width="10.37" height="10.33" fill="#f8e8e4"/>
<rect x="66.62" y="561.71" width="10.37" height="10.33" fill="#8e8ab8"/>
<rect x="75.99" y="561.71" width="10.37" height="10.33" fill="#6c629a"/>
<rect x="85.36" y="561.71" width="10.37" height="10.33" fill="#7870a6"/>
<rect x="94.73" y="561.71" width="10.37" height="10.33" fill="#f6e3df"/>
<rect x="104.10" y="561.71" width="10.37" height="10.33" fill="#b4b2d1"/>
<rect x="113.47" y="561.71" width="9.97" height="10.33" fill="#ffffff"/>
<rect x="10.40" y="571.04" width="29.11" height="10.33" fill="#5b4980"/>
<rect x="38.51" y="571.04" width="10.37" height="10.33" fill="#837daf"/>
<rect x="47.88" y="571.04" width="10.37" height="10.33" fill="#5f4f86"/>
<rect x="57.25" y="571.04" width="10.37" height="10.33" fill="#7870a6"/>
<rect x="66.62" y="571.04" width="10.37" height="10.33" fill="#6c629a"/>
<rect x="75.99" y="571.04" width="10.37" height="10.33" fill="#7870a6"/>
<rect x="85.36" y="571.04" width="10.37" height="10.33" fill="#6a5f96"/>
<rect x="94.73" y="571.04" width="10.37" height="10.33" fill="#dcdae9"/>
<rect x="104.10" y="571.04" width="10.37" height="10.33" fill="#ffffff"/>
<rect x="113.47" y="571.04" width="9.97" height="10.33" fill="#f9ecea"/>
<rect x="10.40" y="580.37" width="19.74" height="10.33" fill="#5f4f86"/>
<rect x="29.14" y="580.37" width="10.37" height="10.33" fill="#5d4c83"/>
<rect x="38.51" y="580.37" width="10.37" height="10.33" fill="#8e8ab8"/>
<rect x="47.88" y="580.37" width="10.37" height="10.33" fill="#63558d"/>
<rect x="57.25" y="580.37" width="10.37" height="10.33" fill="#5b4980"/>
<rect x="66.62" y="580.37" width="10.37" height="10.33" fill="#f8e8e4"/>
<rect x="75.99" y="580.37" width="10.37" height="10.33" fill="#a8a5c9"/>
<rect x="85.36" y="580.37" width="10.37" height="10.33" fill="#ffffff"/>
<rect x="94.73" y="580.37" width="10.37" height="10.33" fill="#c7c4dc"/>
<rect x="104.10" y="580.37" width="19.34" height="10.33" fill="#ffffff"/>
<rect x="10.40" y="589.70" width="10.37" height="10.33" fill="#5f4f86"/>
<rect x="19.77" y="589.70" width="10.37" height="10.33" fill="#665890"/>
<rect x="29.14" y="589.70" width="10.37" height="10.33" fill="#5b4980"/>
<rect x="38.51" y="589.70" width="10.37" height="10.33" fill="#7b75a9"/>
<rect x="47.88" y="589.70" width="10.37" height="10.33" fill="#5f4f86"/>
<rect x="57.25" y="589.70" width="10.37" height="10.33" fill="#c7c4dc"/>
<rect x="66.62" y="589.70" width="10.37" height="10.33" fill="#7b75a9"/>
<rect x="75.99" y="589.70" width="10.37" height="10.33" fill="#8781b2"/>
<rect x="85.36" y="589.70" width="10.37" height="10.33" fill="#5b4980"/>
<rect x="94.73" y="589.70" width="10.37" height="10.33" fill="#bbb8d5"/>
<rect x="104.10" y="589.70" width="19.34" height="10.33" fill="#ffffff"/>
<rect x="10.40" y="599.03" width="29.11" height="10.33" fill="#5b4980"/>
<rect x="38.51" y="599.03" width="10.37" height="10.33" fill="#837daf"/>
<rect x="47.88" y="599.03" width="10.37" height="10.33" fill="#5f4f86"/>
<rect x="57.25" y="599.03" width="10.37" height="10.33" fill="#a8a5c9"/>
<rect x="66.62" y="599.03" width="10.37" height="10.33" fill="#ffffff"/>
<rect x="75.99" y="599.03" width="10.37" height="10.33" fill="#8e8ab8"/>
<rect x="85.36" y="599.03" width="10.37" height="10.33" fill="#8781b2"/>
<rect x="94.73" y="599.03" width="19.74" height="10.33" fill="#ffffff"/>
<rect x="113.47" y="599.03" width="9.97" height="10.33" fill="#dfa098"/>
<rect x="10.40" y="608.36" width="19.74" height="10.33" fill="#5b4980"/>
<rect x="29.14" y="608.36" width="10.37" height="10.33" fill="#5f4f86"/>
<rect x="38.51" y="608.36" width="10.37" height="10.33" fill="#9692be"/>
<rect x="47.88" y="608.36" width="10.37" height="10.33" fill="#6a5f96"/>
<rect x="57.25" y="608.36" width="10.37" height="10.33" fill="#a8a5c9"/>
<rect x="66.62" y="608.36" width="10.37" height="10.33" fill="#7f79ac"/>
<rect x="75.99" y="608.36" width="10.37" height="10.33" fill="#a8a5c9"/>
<rect x="85.36" y="608.36" width="10.37" height="10.33" fill="#837daf"/>
<rect x="94.73" y="608.36" width="10.37" height="10.33" fill="#f6e3df"/>
<rect x="104.10" y="608.36" width="10.37" height="10.33" fill="#ffffff"/>
<rect x="113.47" y="608.36" width="9.97" height="10.33" fill="#a8a5c9"/>
<rect x="10.40" y="617.69" width="10.37" height="10.33" fill="#5b4980"/>
<rect x="19.77" y="617.69" width="10.37" height="10.33" fill="#7b75a9"/>
<rect x="29.14" y="617.69" width="10.37" height="10.33" fill="#5b4980"/>
<rect x="38.51" y="617.69" width="10.37" height="10.33" fill="#ffffff"/>
<rect x="47.88" y="617.69" width="10.37" height="10.33" fill="#f2f1f7"/>
<rect x="57.25" y="617.69" width="10.37" height="10.33" fill="#f6e3df"/>
<rect x="66.62" y="617.69" width="10.37" height="10.33" fill="#dcdae9"/>
<rect x="75.99" y="617.69" width="10.37" height="10.33" fill="#fcf6f4"/>
<rect x="85.36" y="617.69" width="10.37" height="10.33" fill="#9692be"/>
<rect x="94.73" y="617.69" width="10.37" height="10.33" fill="#eecbc5"/>
<rect x="104.10" y="617.69" width="10.37" height="10.33" fill="#ffffff"/>
<rect x="113.47" y="617.69" width="9.97" height="10.33" fill="#e9e8f2"/>
<rect x="10.40" y="627.02" width="10.37" height="10.33" fill="#5b4980"/>
<rect x="19.77" y="627.02" width="10.37" height="10.33" fill="#6c629a"/>
<rect x="29.14" y="627.02" width="10.37" height="10.33" fill="#5b4980"/>
<rect x="38.51" y="627.02" width="10.37" height="10.33" fill="#a29fc6"/>
<rect x="47.88" y="627.02" width="10.37" height="10.33" fill="#8781b2"/>
<rect x="57.25" y="627.02" width="10.37" height="10.33" fill="#edc6c0"/>
<rect x="66.62" y="627.02" width="10.37" height="10.33" fill="#8781b2"/>
<rect x="75.99" y="627.02" width="10.37" height="10.33" fill="#9692be"/>
<rect x="85.36" y="627.02" width="10.37" height="10.33" fill="#8e8ab8"/>
<rect x="94.73" y="627.02" width="10.37" height="10.33" fill="#ffffff"/>
<rect x="104.10" y="627.02" width="10.37" height="10.33" fill="#f6e3df"/>
<rect x="113.47" y="627.02" width="9.97" height="10.33" fill="#e0dfec"/>
<rect x="10.40" y="636.35" width="29.11" height="10.33" fill="#5b4980"/>
<rect x="38.51" y="636.35" width="10.37" height="10.33" fill="#7f79ac"/>
<rect x="47.88" y="636.35" width="10.37" height="10.33" fill="#5d4c83"/>
<rect x="57.25" y="636.35" width="10.37" height="10.33" fill="#7870a6"/>
<rect x="66.62" y="636.35" width="10.37" height="10.33" fill="#5f4f86"/>
<rect x="75.99" y="636.35" width="10.37" height="10.33" fill="#edc6c0"/>
<rect x="85.36" y="636.35" width="10.37" height="10.33" fill="#5b4980"/>
<rect x="94.73" y="636.35" width="10.37" height="10.33" fill="#f9ecea"/>
<rect x="104.10" y="636.35" width="10.37" height="10.33" fill="#c7c4dc"/>
<rect x="113.47" y="636.35" width="9.97" height="10.33" fill="#ffffff"/>
<rect x="10.40" y="645.68" width="10.37" height="10.33" fill="#5b4980"/>
<rect x="19.77" y="645.68" width="10.37" height="10.33" fill="#837daf"/>
<rect x="29.14" y="645.68" width="10.37" height="10.33" fill="#5b4980"/>
<rect x="38.51" y="645.68" width="10.37" height="10.33" fill="#837daf"/>
<rect x="47.88" y="645.68" width="10.37" height="10.33" fill="#bbb8d5"/>
<rect x="57.25" y="645.68" width="10.37" height="10.33" fill="#faf1ef"/>
<rect x="66.62" y="645.68" width="10.37" height="10.33" fill="#a8a5c9"/>
<rect x="75.99" y="645.68" width="10.37" height="10.33" fill="#7870a6"/>
<rect x="85.36" y="645.68" width="10.37" height="10.33" fill="#9692be"/>
<rect x="94.73" y="645.68" width="19.74" height="10.33" fill="#ffffff"/>
<rect x="113.47" y="645.68" width="9.97" height="10.33" fill="#a8a5c9"/>
<rect x="10.40" y="655.01" width="10.37" height="10.33" fill="#61528a"/>
<rect x="19.77" y="655.01" width="10.37" height="10.33" fill="#7068a0"/>
<rect x="29.14" y="655.01" width="10.37" height="10.33" fill="#5f4f86"/>
<rect x="38.51" y="655.01" width="10.37" height="10.33" fill="#9692be"/>
<rect x="47.88" y="655.01" width="10.37" height="10.33" fill="#837daf"/>
<rect x="57.25" y="655.01" width="10.37" height="10.33" fill="#c7c4dc"/>
<rect x="66.62" y="655.01" width="10.37" height="10.33" fill="#a8a5c9"/>
<rect x="75.99" y="655.01" width="10.37" height="10.33" fill="#9692be"/>
<rect x="85.36" y="655.01" width="10.37" height="10.33" fill="#8e8ab8"/>
<rect x="94.73" y="655.01" width="19.74" height="10.33" fill="#ffffff"/>
<rect x="113.47" y="655.01" width="9.97" height="10.33" fill="#e0dfec"/>
<rect x="10.40" y="664.34" width="10.37" height="10.33" fill="#837daf"/>
<rect x="19.77" y="664.34" width="10.37" height="10.33" fill="#7068a0"/>
<rect x="29.14" y="664.34" width="10.37" height="10.33" fill="#5b4980"/>
<rect x="38.51" y="664.34" width="10.37" height="10.33" fill="#7b75a9"/>
<rect x="47.88" y="664.34" width="10.37" height="10.33" fill="#665890"/>
<rect x="57.25" y="664.34" width="10.37" height="10.33" fill="#dcdae9"/>
<rect x="66.62" y="664.34" width="10.37" height="10.33" fill="#d3d1e4"/>
<rect x="75.99" y="664.34" width="10.37" height="10.33" fill="#7b75a9"/>
<rect x="85.36" y="664.34" width="10.37" height="10.33" fill="#6c629a"/>
<rect x="94.73" y="664.34" width="10.37" height="10.33" fill="#d3d1e4"/>
<rect x="104.10" y="664.34" width="10.37" height="10.33" fill="#f4deda"/>
<rect x="113.47" y="664.34" width="9.97" height="10.33" fill="#ffffff"/>
<rect x="10.40" y="673.67" width="10.37" height="10.33" fill="#5b4980"/>
<rect x="19.77" y="673.67" width="10.37" height="10.33" fill="#665890"/>
<rect x="29.14" y="673.67" width="38.48" height="10.33" fill="#5b4980"/>
<rect x="66.62" y="673.67" width="10.37" height="10.33" fill="#7870a6"/>
<rect x="75.99" y="673.67" width="10.37" height="10.33" fill="#a8a5c9"/>
<rect x="85.36" y="673.67" width="10.37" height="10.33" fill="#edc6c0"/>
<rect x="94.73" y="673.67" width="10.37" height="10.33" fill="#c7c4dc"/>
<rect x="104.10" y="673.67" width="10.37" height="10.33" fill="#f8e8e4"/>
<rect x="113.47" y="673.67" width="9.97" height="10.33" fill="#ffffff"/>
<rect x="10.40" y="683.00" width="10.37" height="10.33" fill="#5b4980"/>
<rect x="19.77" y="683.00" width="10.37" height="10.33" fill="#6a5f96"/>
<rect x="29.14" y="683.00" width="47.85" height="10.33" fill="#5b4980"/>
<rect x="75.99" y="683.00" width="10.37" height="10.33" fill="#d6887f"/>
<rect x="85.36" y="683.00" width="10.37" height="10.33" fill="#c7c4dc"/>
<rect x="94.73" y="683.00" width="10.37" height="10.33" fill="#5b4980"/>
<rect x="104.10" y="683.00" width="10.37" height="10.33" fill="#ffffff"/>
<rect x="113.47" y="683.00" width="9.97" height="10.33" fill="#da9289"/>
<rect x="10.40" y="692.33" width="10.37" height="10.33" fill="#5b4980"/>
<rect x="19.77" y="692.33" width="10.37" height="10.33" fill="#5d4c83"/>
<rect x="29.14" y="692.33" width="29.11" height="10.33" fill="#5b4980"/>
<rect x="57.25" y="692.33" width="10.37" height="10.33" fill="#63558d"/>
<rect x="66.62" y="692.33" width="10.37" height="10.33" fill="#5b4980"/>
<rect x="75.99" y="692.33" width="10.37" height="10.33" fill="#a8a5c9"/>
<rect x="85.36" y="692.33" width="10.37" height="10.33" fill="#ffffff"/>
<rect x="94.73" y="692.33" width="10.37" height="10.33" fill="#5b4980"/>
<rect x="104.10" y="692.33" width="10.37" height="10.33" fill="#ffffff"/>
<rect x="113.47" y="692.33" width="9.97" height="10.33" fill="#faf1ef"/>
<rect x="10.40" y="701.66" width="10.37" height="10.33" fill="#5b4980"/>
<rect x="19.77" y="701.66" width="10.37" height="10.33" fill="#6c629a"/>
<rect x="29.14" y="701.66" width="47.85" height="10.33" fill="#5b4980"/>
<rect x="75.99" y="701.66" width="10.37" height="10.33" fill="#f0d0ca"/>
<rect x="85.36" y="701.66" width="10.37" height="10.33" fill="#9692be"/>
<rect x="94.73" y="701.66" width="10.37" height="10.33" fill="#ffffff"/>
<rect x="104.10" y="701.66" width="10.37" height="10.33" fill="#f0d0ca"/>
<rect x="113.47" y="701.66" width="9.97" height="10.33" fill="#ffffff"/>
<rect x="10.40" y="710.99" width="10.37" height="10.33" fill="#5b4980"/>
<rect x="19.77" y="710.99" width="10.37" height="10.33" fill="#7068a0"/>
<rect x="29.14" y="710.99" width="47.85" height="10.33" fill="#5b4980"/>
<rect x="75.99" y="710.99" width="10.37" height="10.33" fill="#bbb8d5"/>
<rect x="85.36" y="710.99" width="10.37" height="10.33" fill="#eecbc5"/>
<rect x="94.73" y="710.99" width="10.37" height="10.33" fill="#5b4980"/>
<rect x="104.10" y="710.99" width="19.34" height="10.33" fill="#ffffff"/>
<rect x="10.40" y="720.32" width="10.37" height="10.33" fill="#5b4980"/>
<rect x="19.77" y="720.32" width="10.37" height="10.33" fill="#837daf"/>
<rect x="29.14" y="720.32" width="47.85" height="10.33" fill="#5b4980"/>
<rect x="75.99" y="720.32" width="10.37" height="10.33" fill="#fbfafc"/>
<rect x="85.36" y="720.32" width="10.37" height="10.33" fill="#dfa098"/>
<rect x="94.73" y="720.32" width="10.37" height="10.33" fill="#8781b2"/>
<rect x="104.10" y="720.32" width="10.37" height="10.33" fill="#ffffff"/>
<rect x="113.47" y="720.32" width="9.97" height="10.33" fill="#f4deda"/>
<rect x="10.40" y="729.65" width="10.37" height="10.33" fill="#5b4980"/>
<rect x="19.77" y="729.65" width="10.37" height="10.33" fill="#a8a5c9"/>
<rect x="29.14" y="729.65" width="47.85" height="10.33" fill="#5b4980"/>
<rect x="75.99" y="729.65" width="10.37" height="10.33" fill="#b4b2d1"/>
<rect x="85.36" y="729.65" width="10.37" height="10.33" fill="#d17a70"/>
<rect x="94.73" y="729.65" width="10.37" height="10.33" fill="#fbfafc"/>
<rect x="104.10" y="729.65" width="10.37" height="10.33" fill="#ffffff"/>
<rect x="113.47" y="729.65" width="9.97" height="10.33" fill="#61528a"/>
<rect x="10.40" y="738.98" width="10.37" height="10.33" fill="#5b4980"/>
<rect x="19.77" y="738.98" width="10.37" height="10.33" fill="#a29fc6"/>
<rect x="29.14" y="738.98" width="47.85" height="10.33" fill="#5b4980"/>
<rect x="75.99" y="738.98" width="10.37" height="10.33" fill="#928ebb"/>
<rect x="85.36" y="738.98" width="10.37" height="10.33" fill="#c55f4a"/>
<rect x="94.73" y="738.98" width="10.37" height="10.33" fill="#ffffff"/>
<rect x="104.10" y="738.98" width="10.37" height="10.33" fill="#f2d5cf"/>
<rect x="113.47" y="738.98" width="9.97" height="10.33" fill="#7068a0"/>
<rect x="10.40" y="748.31" width="10.37" height="10.33" fill="#5b4980"/>
<rect x="19.77" y="748.31" width="10.37" height="10.33" fill="#bbb8d5"/>
<rect x="29.14" y="748.31" width="10.37" height="10.33" fill="#8781b2"/>
<rect x="38.51" y="748.31" width="38.48" height="10.33" fill="#5b4980"/>
<rect x="75.99" y="748.31" width="10.37" height="10.33" fill="#c1bed9"/>
<rect x="85.36" y="748.31" width="10.37" height="10.33" fill="#d17a70"/>
<rect x="94.73" y="748.31" width="10.37" height="10.33" fill="#ffffff"/>
<rect x="104.10" y="748.31" width="10.37" height="10.33" fill="#edc6c0"/>
<rect x="113.47" y="748.31" width="9.97" height="10.33" fill="#a8a5c9"/>
<rect x="10.40" y="757.64" width="10.37" height="10.33" fill="#7068a0"/>
<rect x="19.77" y="757.64" width="19.74" height="10.33" fill="#ffffff"/>
<rect x="38.51" y="757.64" width="10.37" height="10.33" fill="#5b4980"/>
<rect x="47.88" y="757.64" width="10.37" height="10.33" fill="#837daf"/>
<rect x="57.25" y="757.64" width="19.74" height="10.33" fill="#5b4980"/>
<rect x="75.99" y="757.64" width="10.37" height="10.33" fill="#ffffff"/>
<rect x="85.36" y="757.64" width="10.37" height="10.33" fill="#c25d43"/>
<rect x="94.73" y="757.64" width="10.37" height="10.33" fill="#c7c4dc"/>
<rect x="104.10" y="757.64" width="10.37" height="10.33" fill="#e8b8b1"/>
<rect x="113.47" y="757.64" width="9.97" height="10.33" fill="#ffffff"/>
<rect x="10.40" y="766.97" width="10.37" height="10.33" fill="#5b4980"/>
<rect x="19.77" y="766.97" width="10.37" height="10.33" fill="#f8e8e4"/>
<rect x="29.14" y="766.97" width="10.37" height="10.33" fill="#7f79ac"/>
<rect x="38.51" y="766.97" width="10.37" height="10.33" fill="#5b4980"/>
<rect x="47.88" y="766.97" width="10.37" height="10.33" fill="#7f79ac"/>
<rect x="57.25" y="766.97" width="19.74" height="10.33" fill="#5b4980"/>
<rect x="75.99" y="766.97" width="10.37" height="10.33" fill="#ffffff"/>
<rect x="85.36" y="766.97" width="10.37" height="10.33" fill="#bf5b3c"/>
<rect x="94.73" y="766.97" width="10.37" height="10.33" fill="#ffffff"/>
<rect x="104.10" y="766.97" width="10.37" height="10.33" fill="#dfa098"/>
<rect x="113.47" y="766.97" width="9.97" height="10.33" fill="#e9e8f2"/>
<rect x="10.40" y="776.30" width="10.37" height="9.73" fill="#5b4980"/>
<rect x="19.77" y="776.30" width="10.37" height="9.73" fill="#d3d1e4"/>
<rect x="29.14" y="776.30" width="19.74" height="9.73" fill="#5b4980"/>
<rect x="47.88" y="776.30" width="10.37" height="9.73" fill="#7870a6"/>
<rect x="57.25" y="776.30" width="10.37" height="9.73" fill="#6a5f96"/>
<rect x="66.62" y="776.30" width="10.37" height="9.73" fill="#5b4980"/>
<rect x="75.99" y="776.30" width="10.37" height="9.73" fill="#f0d0ca"/>
<rect x="85.36" y="776.30" width="10.37" height="9.73" fill="#c05c40"/>
<rect x="94.73" y="776.30" width="10.37" height="9.73" fill="#e5e3ef"/>
<rect x="104.10" y="776.30" width="10.37" height="9.73" fill="#f4deda"/>
<rect x="113.47" y="776.30" width="9.97" height="9.73" fill="#ffffff"/>
</g>
<rect x="11.0" y="114.4" width="112.2" height="671.3" fill="none" stroke="#111" stroke-width="1.3"/>
<rect x="126.5" y="113.87" width="20.5" height="46.65" fill="#d9ae6f"/>
<path d="M188.1 114.17 C192.60 114.37 195.9 115.37 195.9 118.77 L195.9 133.19 C195.9 135.50 198.4 136.40 204.4 137.00 C198.4 137.59 195.9 138.50 195.9 140.80 L195.9 155.22 C195.9 158.62 192.60 159.62 188.1 159.82" fill="none" stroke="#d9ae6f" stroke-width="1.3"/>
<rect x="204.6" y="114.8" width="304.2" height="44.3" fill="#d9ae6f"/>
<text class="b" x="214" y="135.75" textLength="96.8" lengthAdjust="spacingAndGlyphs">(1) Upregulated in Fib</text>
<text class="b s" x="311.2" y="132.25" textLength="8.4" lengthAdjust="spacingAndGlyphs">WT</text>
<text class="b" x="322.6" y="135.75" textLength="12.8" lengthAdjust="spacingAndGlyphs">SS:</text>
<text class="b" x="214" y="148.55" textLength="116.8" lengthAdjust="spacingAndGlyphs">Acute kidney injury genes</text>
<rect x="126.5" y="160.52" width="20.5" height="139.95" fill="#1c7fb6"/>
<path d="M188.1 160.82 C192.60 161.02 195.9 162.02 195.9 165.42 L195.9 226.50 C195.9 228.80 198.4 229.70 204.4 230.30 C198.4 230.90 195.9 231.80 195.9 234.10 L195.9 295.17 C195.9 298.57 192.60 299.57 188.1 299.77" fill="none" stroke="#6ba3ce" stroke-width="1.3"/>
<rect x="204.6" y="209.0" width="304.2" height="44.2" fill="#6ba3ce"/>
<text class="b" x="214" y="229.90" textLength="96.8" lengthAdjust="spacingAndGlyphs">(2) Upregulated in Fib</text>
<text class="b s" x="311.2" y="226.40" textLength="8.4" lengthAdjust="spacingAndGlyphs">WT</text>
<text class="b" x="322.8" y="229.90" textLength="51.2" lengthAdjust="spacingAndGlyphs">SS and Fibγ</text>
<text class="b s" x="375.6" y="226.40" textLength="25.4" lengthAdjust="spacingAndGlyphs">390–396A</text>
<text class="b" x="404.4" y="229.90" textLength="12.1" lengthAdjust="spacingAndGlyphs">SS:</text>
<text class="b" x="214" y="242.70" textLength="194.5" lengthAdjust="spacingAndGlyphs">Defense response, anti-inflammation genes</text>
<rect x="126.5" y="300.47" width="20.5" height="83.97" fill="#c6d2a8"/>
<path d="M188.1 300.77 C192.60 300.97 195.9 301.97 195.9 305.37 L195.9 338.46 C195.9 340.76 198.4 341.66 204.4 342.26 C198.4 342.86 195.9 343.76 195.9 346.06 L195.9 379.14 C195.9 382.54 192.60 383.54 188.1 383.74" fill="none" stroke="#c6d2a8" stroke-width="1.3"/>
<rect x="204.6" y="320.3" width="304.2" height="44.5" fill="#c6d2a8"/>
<text class="b" x="214" y="341.35" textLength="102.5" lengthAdjust="spacingAndGlyphs">(3) Upregulated in Fibγ</text>
<text class="b s" x="317.8" y="337.85" textLength="26.2" lengthAdjust="spacingAndGlyphs">390–396A</text>
<text class="b" x="346.8" y="341.35" textLength="12.6" lengthAdjust="spacingAndGlyphs">SS:</text>
<text class="b" x="214" y="354.15" textLength="189.7" lengthAdjust="spacingAndGlyphs">Glomerular protection, endothelial stroma</text>
<rect x="126.5" y="384.44" width="20.5" height="74.64" fill="#4f9e5b"/>
<path d="M188.1 384.74 C192.60 384.94 195.9 385.94 195.9 389.34 L195.9 417.76 C195.9 420.06 198.4 420.96 204.4 421.56 C198.4 422.16 195.9 423.06 195.9 425.36 L195.9 453.78 C195.9 457.18 192.60 458.18 188.1 458.38" fill="none" stroke="#4f9e5b" stroke-width="1.3"/>
<rect x="204.6" y="403.4" width="304.2" height="44.2" fill="#72ab71"/>
<text class="b" x="214" y="424.30" textLength="110.0" lengthAdjust="spacingAndGlyphs">(4) Downregulated in Fib</text>
<text class="b s" x="324.4" y="420.80" textLength="8.6" lengthAdjust="spacingAndGlyphs">WT</text>
<text class="b" x="337" y="424.30" textLength="12.2" lengthAdjust="spacingAndGlyphs">SS:</text>
<text class="b" x="214" y="437.10" textLength="205.4" lengthAdjust="spacingAndGlyphs">Kidney endothelial cell, fluid regulation genes</text>
<rect x="126.5" y="459.08" width="20.5" height="158.61" fill="#e1a29b"/>
<path d="M188.1 459.38 C192.60 459.58 195.9 460.58 195.9 463.98 L195.9 534.38 C195.9 536.68 198.4 537.58 204.4 538.18 C198.4 538.78 195.9 539.68 195.9 541.98 L195.9 612.39 C195.9 615.79 192.60 616.79 188.1 616.99" fill="none" stroke="#e8b3ae" stroke-width="1.3"/>
<rect x="204.6" y="516.9" width="304.2" height="44.0" fill="#e8b3ae"/>
<text class="b" x="214" y="537.70" textLength="110.0" lengthAdjust="spacingAndGlyphs">(5) Downregulated in Fib</text>
<text class="b s" x="324.4" y="534.20" textLength="8.6" lengthAdjust="spacingAndGlyphs">WT</text>
<text class="b" x="337" y="537.70" textLength="12.2" lengthAdjust="spacingAndGlyphs">SS:</text>
<text class="b" x="214" y="550.50" textLength="226" lengthAdjust="spacingAndGlyphs">Podocytes, mesangium, extracellular matrix genes</text>
<rect x="126.5" y="617.69" width="20.5" height="65.31" fill="#be4a42"/>
<path d="M188.1 617.99 C192.60 618.19 195.9 619.19 195.9 622.59 L195.9 646.35 C195.9 648.64 198.4 649.54 204.4 650.14 C198.4 650.75 195.9 651.64 195.9 653.94 L195.9 677.70 C195.9 681.10 192.60 682.10 188.1 682.30" fill="none" stroke="#be4a42" stroke-width="1.3"/>
<rect x="204.6" y="628.5" width="304.2" height="44.5" fill="#c5625a"/>
<text class="b" x="214" y="649.55" textLength="110.0" lengthAdjust="spacingAndGlyphs">(6) Downregulated in Fib</text>
<text class="b s" x="324.4" y="646.05" textLength="8.6" lengthAdjust="spacingAndGlyphs">WT</text>
<text class="b" x="337" y="649.55" textLength="12.2" lengthAdjust="spacingAndGlyphs">SS:</text>
<text class="b" x="214" y="662.35" textLength="179.8" lengthAdjust="spacingAndGlyphs">Podocytes, mesangium, adhesion genes</text>
<rect x="126.5" y="683.00" width="20.5" height="65.31" fill="#ebbd86"/>
<path d="M188.1 683.30 C192.60 683.50 195.9 684.50 195.9 687.90 L195.9 711.65 C195.9 713.95 198.4 714.85 204.4 715.45 C198.4 716.05 195.9 716.95 195.9 719.25 L195.9 743.01 C195.9 746.41 192.60 747.41 188.1 747.61" fill="none" stroke="#ebbd86" stroke-width="1.3"/>
<rect x="204.6" y="693.8" width="304.2" height="44.4" fill="#efc797"/>
<text class="b" x="214" y="714.80" textLength="110.0" lengthAdjust="spacingAndGlyphs">(7) Downregulated in Fib</text>
<text class="b s" x="324.4" y="711.30" textLength="8.6" lengthAdjust="spacingAndGlyphs">WT</text>
<text class="b" x="337" y="714.80" textLength="51.2" lengthAdjust="spacingAndGlyphs">SS and Fibγ</text>
<text class="b s" x="389.8" y="711.30" textLength="25.4" lengthAdjust="spacingAndGlyphs">390–396A</text>
<text class="b" x="418.8" y="714.80" textLength="12.7" lengthAdjust="spacingAndGlyphs">SS:</text>
<text class="b" x="214" y="727.60" textLength="239.1" lengthAdjust="spacingAndGlyphs">organic acid/active transport, proximal tubular genes</text>
<rect x="126.5" y="748.31" width="20.5" height="37.32" fill="#d58a3a"/>
<path d="M188.1 748.61 C192.60 748.81 195.9 749.81 195.9 753.21 L195.9 762.97 C195.9 765.27 198.4 766.17 204.4 766.77 C198.4 767.37 195.9 768.27 195.9 770.57 L195.9 780.33 C195.9 783.73 192.60 784.73 188.1 784.93" fill="none" stroke="#d98f3e" stroke-width="1.3"/>
<rect x="204.6" y="745.3" width="304.2" height="44.5" fill="#dc9950"/>
<text class="b" x="214" y="766.35" textLength="115.8" lengthAdjust="spacingAndGlyphs">(8) Downregulated in Fibγ</text>
<text class="b s" x="333" y="762.85" textLength="25.2" lengthAdjust="spacingAndGlyphs">390–396A</text>
<text class="b" x="362.2" y="766.35" textLength="12.0" lengthAdjust="spacingAndGlyphs">SS:</text>
<text class="b" x="214" y="779.15" textLength="169.3" lengthAdjust="spacingAndGlyphs">brush border, tubular epithelial genes</text>
<text class="g" transform="translate(151.4 121.75) scale(0.945 1)">C3</text>
<text class="g" transform="translate(151.4 131.08) scale(0.945 1)">Sprr1a</text>
<text class="g" transform="translate(151.4 140.42) scale(0.945 1)">Pappa2</text>
<text class="g" transform="translate(151.4 149.75) scale(0.945 1)">Lcn2</text>
<text class="g" transform="translate(151.4 159.08) scale(0.945 1)">Grem1</text>
<text class="g" transform="translate(151.4 168.41) scale(0.945 1)">Marco</text>
<text class="g" transform="translate(151.4 177.75) scale(0.945 1)">Slc38a5</text>
<text class="g" transform="translate(151.4 187.08) scale(0.945 1)">Mmp7</text>
<text class="g" transform="translate(151.4 196.41) scale(0.945 1)">Fosb</text>
<text class="g" transform="translate(151.4 205.75) scale(0.945 1)">Fos</text>
<text class="g" transform="translate(151.4 215.08) scale(0.945 1)">Socs3</text>
<text class="g" transform="translate(151.4 224.41) scale(0.945 1)">Cxcl2</text>
<text class="g" transform="translate(151.4 233.75) scale(0.945 1)">Egr1</text>
<text class="g" transform="translate(151.4 243.08) scale(0.945 1)">Hmox1</text>
<text class="g" transform="translate(151.4 252.41) scale(0.945 1)">Nfkbiz</text>
<text class="g" transform="translate(151.4 261.75) scale(0.945 1)">Gja1</text>
<text class="g" transform="translate(151.4 271.08) scale(0.945 1)">Cd5l</text>
<text class="g" transform="translate(151.4 280.41) scale(0.945 1)">Elf3</text>
<text class="g" transform="translate(151.4 289.74) scale(0.945 1)">C6</text>
<text class="g" transform="translate(151.4 299.08) scale(0.945 1)">Ccr3</text>
<text class="g" transform="translate(151.4 308.41) scale(0.945 1)">Rgs4</text>
<text class="g" transform="translate(151.4 317.74) scale(0.945 1)">Gadd45b</text>
<text class="g" transform="translate(151.4 327.08) scale(0.945 1)">Junb</text>
<text class="g" transform="translate(151.4 336.41) scale(0.945 1)">Cebpd</text>
<text class="g" transform="translate(151.4 345.74) scale(0.945 1)">Tnfaip3</text>
<text class="g" transform="translate(151.4 355.08) scale(0.945 1)">Ptgs2</text>
<text class="g" transform="translate(151.4 364.41) scale(0.945 1)">Bhlhe40</text>
<text class="g" transform="translate(151.4 373.74) scale(0.945 1)">Myc</text>
<text class="g" transform="translate(151.4 383.07) scale(0.945 1)">Slpi</text>
<text class="g" transform="translate(151.4 392.41) scale(0.945 1)">Gata5</text>
<text class="g" transform="translate(151.4 401.74) scale(0.945 1)">Epas1</text>
<text class="g" transform="translate(151.4 411.07) scale(0.945 1)">Rarg</text>
<text class="g" transform="translate(151.4 420.41) scale(0.945 1)">Klf13</text>
<text class="g" transform="translate(151.4 429.74) scale(0.945 1)">Crtc3</text>
<text class="g" transform="translate(151.4 439.07) scale(0.945 1)">Stat2</text>
<text class="g" transform="translate(151.4 448.41) scale(0.945 1)">Pcdhgc3</text>
<text class="g" transform="translate(151.4 457.74) scale(0.945 1)">Tgfbr2</text>
<text class="g" transform="translate(151.4 467.07) scale(0.945 1)">Pcsk6</text>
<text class="g" transform="translate(151.4 476.40) scale(0.945 1)">Nphs1</text>
<text class="g" transform="translate(151.4 485.74) scale(0.945 1)">Nr2f1</text>
<text class="g" transform="translate(151.4 495.07) scale(0.945 1)">Robo1</text>
<text class="g" transform="translate(151.4 504.40) scale(0.945 1)">Slc16a2</text>
<text class="g" transform="translate(151.4 513.74) scale(0.945 1)">Sfrp2</text>
<text class="g" transform="translate(151.4 523.07) scale(0.945 1)">Epha3</text>
<text class="g" transform="translate(151.4 532.40) scale(0.945 1)">Gdf10</text>
<text class="g" transform="translate(151.4 541.74) scale(0.945 1)">Angptl2</text>
<text class="g" transform="translate(151.4 551.07) scale(0.945 1)">Cys1</text>
<text class="g" transform="translate(151.4 560.40) scale(0.945 1)">Tcf7l1</text>
<text class="g" transform="translate(151.4 569.73) scale(0.945 1)">Smad6</text>
<text class="g" transform="translate(151.4 579.07) scale(0.945 1)">Arhgef17</text>
<text class="g" transform="translate(151.4 588.40) scale(0.945 1)">Fgd2</text>
<text class="g" transform="translate(151.4 597.73) scale(0.945 1)">Itga3</text>
<text class="g" transform="translate(151.4 607.07) scale(0.945 1)">Slc37a2</text>
<text class="g" transform="translate(151.4 616.40) scale(0.945 1)">Bmp4</text>
<text class="g" transform="translate(151.4 625.73) scale(0.945 1)">Tcf7</text>
<text class="g" transform="translate(151.4 635.07) scale(0.945 1)">Eng</text>
<text class="g" transform="translate(151.4 644.40) scale(0.945 1)">Pdgfra</text>
<text class="g" transform="translate(151.4 653.73) scale(0.945 1)">Jup</text>
<text class="g" transform="translate(151.4 663.06) scale(0.945 1)">Zc3h7b</text>
<text class="g" transform="translate(151.4 672.40) scale(0.945 1)">Il6ra</text>
<text class="g" transform="translate(151.4 681.73) scale(0.945 1)">Fcgr2b</text>
<text class="g" transform="translate(151.4 691.06) scale(0.945 1)">Slc5a8</text>
<text class="g" transform="translate(151.4 700.40) scale(0.945 1)">Napsa</text>
<text class="g" transform="translate(151.4 709.73) scale(0.945 1)">Acy3</text>
<text class="g" transform="translate(151.4 719.06) scale(0.945 1)">Mep1a</text>
<text class="g" transform="translate(151.4 728.39) scale(0.945 1)">Slc27a2</text>
<text class="g" transform="translate(151.4 737.73) scale(0.945 1)">Pfn3</text>
<text class="g" transform="translate(151.4 747.06) scale(0.945 1)">Slc34a1</text>
<text class="g" transform="translate(151.4 756.39) scale(0.945 1)">Hnf4a</text>
<text class="g" transform="translate(151.4 765.73) scale(0.945 1)">Cubn</text>
<text class="g" transform="translate(151.4 775.06) scale(0.945 1)">Agxt2</text>
<text class="g" transform="translate(151.4 784.39) scale(0.945 1)">Slc16a4</text>
<path d="M12.90 98.5 C12.90 95.60 13.80 94.3 15.90 94.3 L22.65 94.3 C24.35 94.3 25.05 93.10 25.05 88.6 C25.05 93.10 25.75 94.3 27.45 94.3 L34.20 94.3 C36.30 94.3 37.20 95.60 37.20 98.5" fill="none" stroke="#62a744" stroke-width="1.15"/>
<text class="n" fill="#62a744" stroke="#62a744" x="15.60" y="111.7">1</text>
<text class="n" fill="#62a744" stroke="#62a744" x="24.92" y="111.7">2</text>
<text class="n" fill="#62a744" stroke="#62a744" x="34.24" y="111.7">3</text>
<g transform="translate(31.35 83.5) rotate(-90)" fill="#62a744" stroke="#62a744" stroke-width="0.22">
<text font-size="10" x="0" y="0" textLength="12.3" lengthAdjust="spacingAndGlyphs">Fib</text>
<text font-size="8" stroke-width="0.05" x="12.7" y="-4.2" textLength="10.6" lengthAdjust="spacingAndGlyphs">WT</text>
<text font-size="10" x="27" y="0" textLength="9.5" lengthAdjust="spacingAndGlyphs">SS</text>
</g>
<path d="M39.40 98.5 C39.40 95.60 40.30 94.3 42.40 94.3 L55.20 94.3 C56.90 94.3 57.60 93.10 57.60 88.6 C57.60 93.10 58.30 94.3 60.00 94.3 L72.80 94.3 C74.90 94.3 75.80 95.60 75.80 98.5" fill="none" stroke="#6f3c7a" stroke-width="1.15"/>
<text class="n" fill="#6f3c7a" stroke="#6f3c7a" x="43.56" y="111.7">1</text>
<text class="n" fill="#6f3c7a" stroke="#6f3c7a" x="52.88" y="111.7">2</text>
<text class="n" fill="#6f3c7a" stroke="#6f3c7a" x="62.20" y="111.7">3</text>
<text class="n" fill="#6f3c7a" stroke="#6f3c7a" x="71.52" y="111.7">4</text>
<g transform="translate(63.90 83.5) rotate(-90)" fill="#6f3c7a" stroke="#6f3c7a" stroke-width="0.22">
<text font-size="10" x="0" y="0" textLength="16.0" lengthAdjust="spacingAndGlyphs">Fibγ</text>
<text font-size="8" stroke-width="0.05" x="17.2" y="-4.2" textLength="33.8" lengthAdjust="spacingAndGlyphs">390–396A</text>
<text font-size="10" x="54.7" y="0" textLength="9.9" lengthAdjust="spacingAndGlyphs">SS</text>
</g>
<path d="M80.50 98.5 C80.50 95.60 81.40 94.3 82.83 94.3 L83.22 94.3 C84.85 94.3 85.55 93.10 85.55 88.6 C85.55 93.10 86.25 94.3 87.88 94.3 L88.27 94.3 C89.70 94.3 90.60 95.60 90.60 98.5" fill="none" stroke="#b3283c" stroke-width="1.15"/>
<text class="n" fill="#b3283c" stroke="#b3283c" x="80.84" y="111.7">1</text>
<text class="n" fill="#b3283c" stroke="#b3283c" x="90.16" y="111.7">2</text>
<g transform="translate(91.85 83.5) rotate(-90)" fill="#b3283c" stroke="#b3283c" stroke-width="0.22">
<text font-size="10" x="0" y="0" textLength="12.3" lengthAdjust="spacingAndGlyphs">Fib</text>
<text font-size="8" stroke-width="0.05" x="12.7" y="-4.2" textLength="10.6" lengthAdjust="spacingAndGlyphs">WT</text>
<text font-size="10" x="27" y="0" textLength="10.3" lengthAdjust="spacingAndGlyphs">B6</text>
</g>
<path d="M95.90 98.5 C95.90 95.60 96.80 94.3 98.90 94.3 L106.35 94.3 C108.05 94.3 108.75 93.10 108.75 88.6 C108.75 93.10 109.45 94.3 111.15 94.3 L118.60 94.3 C120.70 94.3 121.60 95.60 121.60 98.5" fill="none" stroke="#3c5a8a" stroke-width="1.15"/>
<text class="n" fill="#3c5a8a" stroke="#3c5a8a" x="99.48" y="111.7">1</text>
<text class="n" fill="#3c5a8a" stroke="#3c5a8a" x="108.80" y="111.7">2</text>
<text class="n" fill="#3c5a8a" stroke="#3c5a8a" x="118.12" y="111.7">3</text>
<g transform="translate(115.05 83.5) rotate(-90)" fill="#3c5a8a" stroke="#3c5a8a" stroke-width="0.22">
<text font-size="10" x="0" y="0" textLength="16.0" lengthAdjust="spacingAndGlyphs">Fibγ</text>
<text font-size="8" stroke-width="0.05" x="17.2" y="-4.2" textLength="33.8" lengthAdjust="spacingAndGlyphs">390–396A</text>
<text font-size="10" x="54.7" y="0" textLength="11.1" lengthAdjust="spacingAndGlyphs">B6</text>
</g>
<rect x="10.6" y="808.5" width="143.4" height="8.4" fill="url(#lg)"/>
<text class="k" x="10.9" y="804.2">-2</text>
<text class="k" x="46.6" y="804.2">-1</text>
<text class="k" x="82.3" y="804.2">0</text>
<text class="k" x="118.0" y="804.2">+1</text>
<text class="k" x="153.7" y="804.2">+2</text>
<text class="k" x="82.6" y="829.8">Log2 vs Baseline</text>
</svg></body></html>
